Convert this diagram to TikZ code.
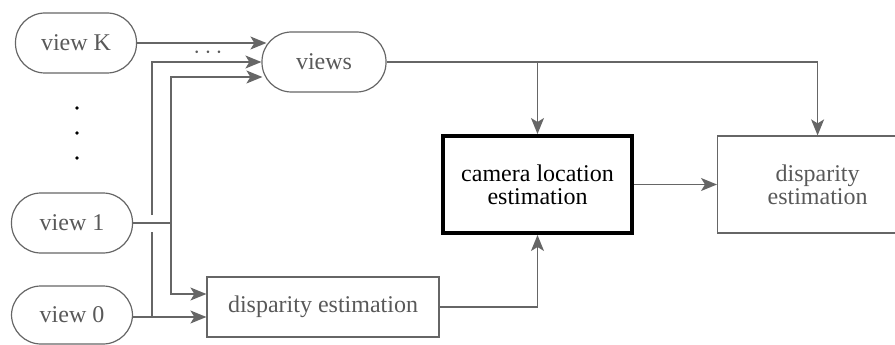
\documentclass[tikz,border=0pt]{standalone}
\usepackage{fontspec}
\setmainfont{Liberation Serif}
\usetikzlibrary{arrows.meta,calc}
\begin{document}
\begin{tikzpicture}[x=1pt,y=-1pt,
  line width=1.4pt,
  every node/.style={font=\fontsize{24}{23}\selectfont},
  pill/.style={draw=black!60, line width=1.2pt, text=black!65, rounded corners=29.5pt,
    minimum width=121pt, minimum height=60pt, inner sep=0pt},
  box/.style={draw=black!60, line width=1.2pt, text=black!65, inner sep=0pt, align=center},
  link/.style={draw=black!60, line width=1.4pt},
  arr/.style={link, -{Stealth[length=16pt,width=13pt,inset=4pt]}}]
\useasboundingbox (0,0) rectangle (895,345);
\begin{scope}
\clip (0,0) rectangle (895,345);

% sources and targets
\node[pill] (viewK) at (76,43) {view K};
\node[pill, minimum width=124pt] (views) at (324,62) {views};
\node[pill] (view1) at (72,223) {view 1};
\node[pill, minimum height=58pt] (view0) at (72,315) {view 0};
\node[box, minimum width=232pt, minimum height=60pt] (disp0) at (323,307) {disparity estimation};
\node[draw=black, line width=4pt, inner sep=0pt, align=center, minimum width=189pt, minimum height=97pt]
  (cam) at (537.5,184.5) {camera location\\estimation};
\node[box, minimum width=200pt, minimum height=97pt, anchor=west] (disp1) at (717,184.5) {disparity\\estimation};

% vertical ellipsis and inline dots
\foreach \yy in {108,133,158} \fill (77,\yy) circle (1.8pt);
\node[text=black!65, inner sep=0pt, anchor=base] (more) at (208,59) {\fontsize{28}{28}\selectfont$\cdots$};

% junction points
\coordinate (j0) at ($(view0.east)+(19,2)$);
\coordinate (j1) at ($(view1.east)+(38,0)$);
\coordinate (jc) at (views.east -| cam.north);
\coordinate (jd) at (views.east -| disp1.north);

% view K into views
\draw[arr] (viewK.east) -- ($(views.west)+(5,-19)$);

% view 0 into views and the lower estimation
\draw[arr] (view0.east |- j0) -- (disp0.west |- j0);
\draw[link] (j0) -- ($(j0)+(0,-85)$);
\draw[arr] ($(j0)+(0,-102)$) -- (j0 |- views.west) -- (views.west);

% view 1 into views and the lower estimation
\draw[link] (view1.east) -- (j1);
\draw[arr] (j1) -- (j1 |- 0,77) -- ($(views.west)+(1,15)$);
\draw[arr] (j1) -- (j1 |- 0,294) -- (disp0.west |- 0,294);

% estimations to camera location
\draw[arr] (disp0.east) -- (disp0.east -| cam.south) -- (cam.south);
\draw[link] (views.east) -- (jd);
\draw[arr] (jc) -- (cam.north);
\draw[arr] (jd) -- (disp1.north);
\draw[arr] (cam.east) -- (disp1.west);
\end{scope}
\end{tikzpicture}
\end{document}
